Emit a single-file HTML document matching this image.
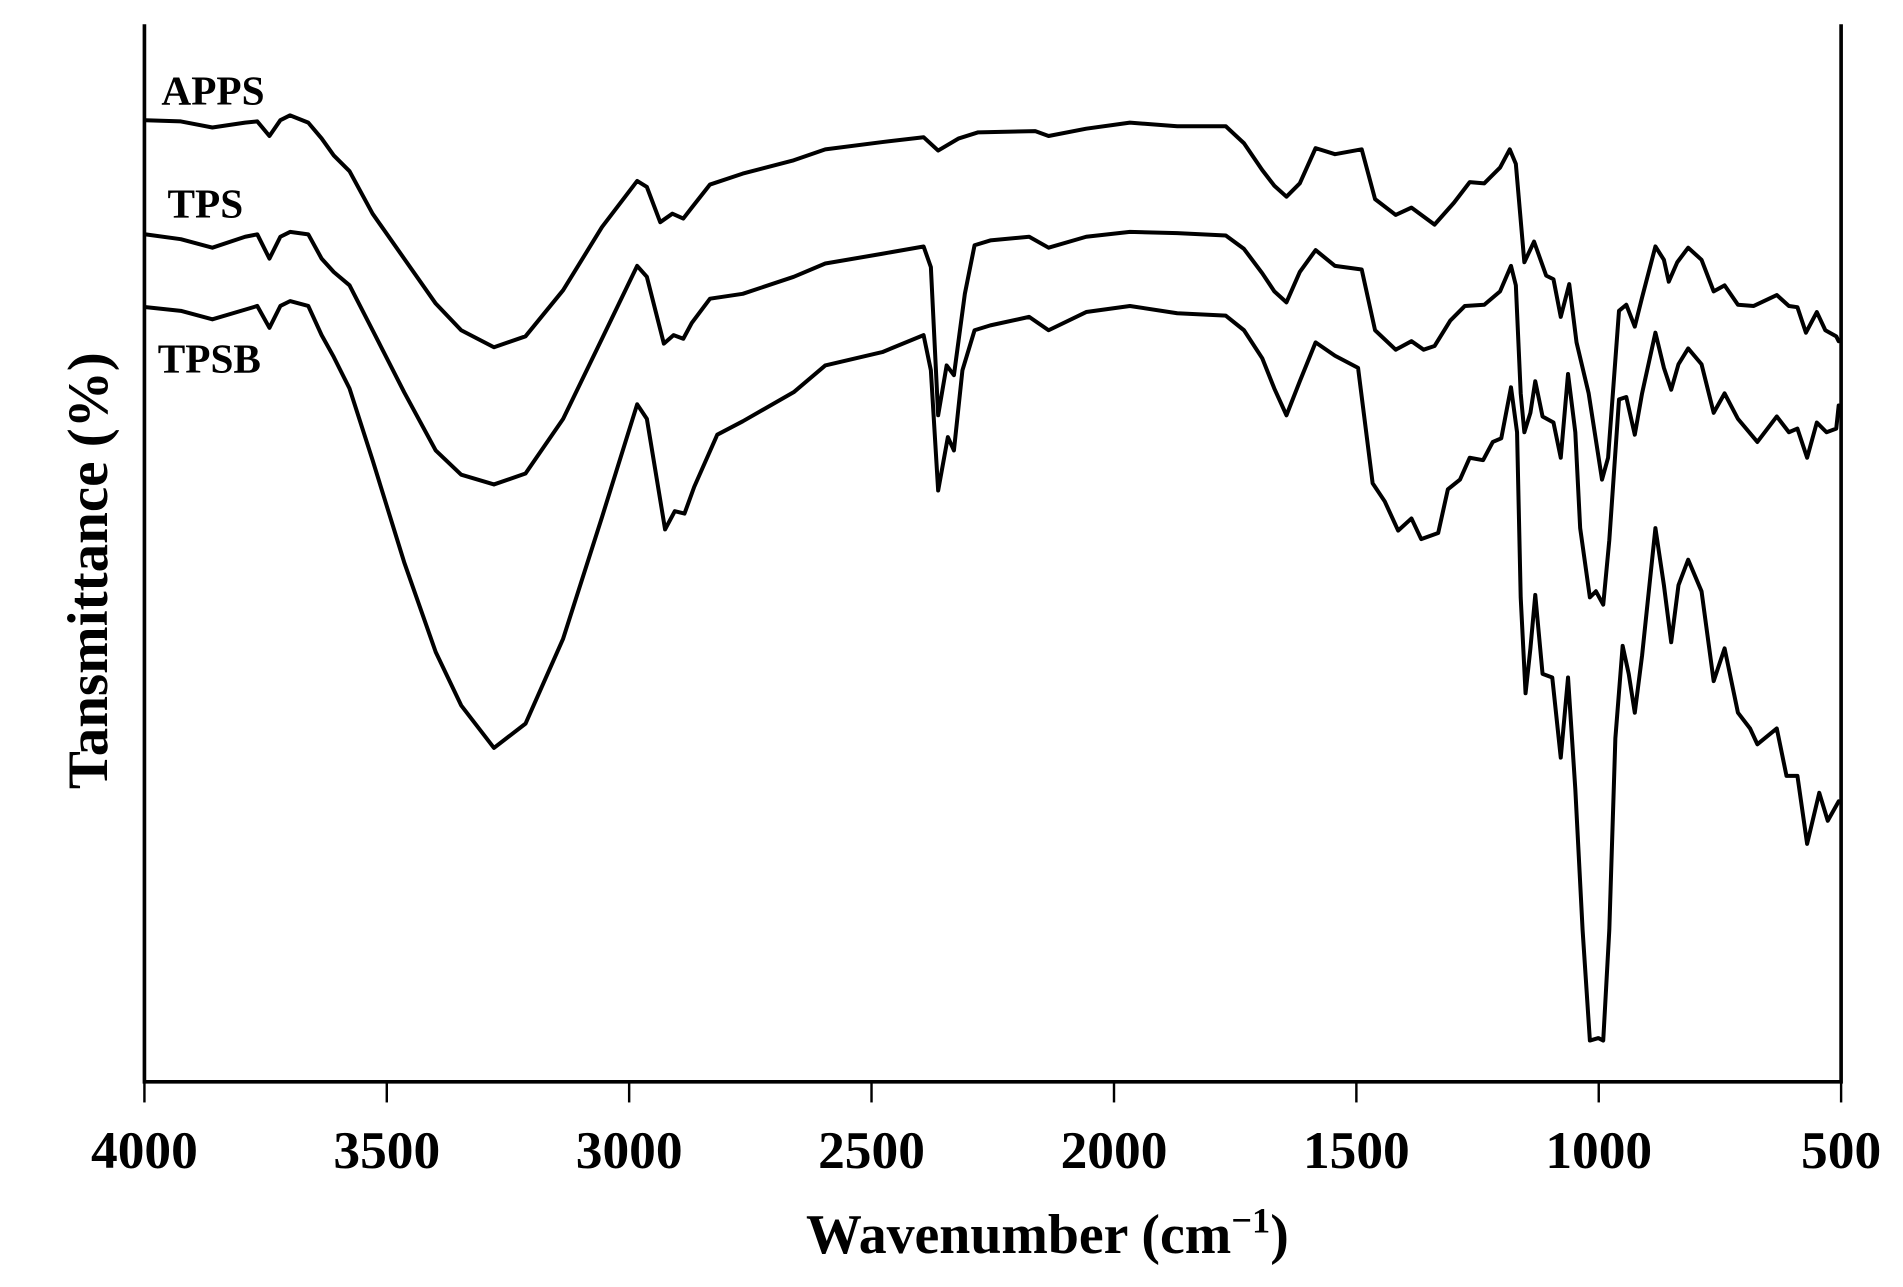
<!DOCTYPE html>
<html><head><meta charset="utf-8"><style>
html,body{margin:0;padding:0;background:#fff;}
svg{display:block;}
text{font-family:"Liberation Serif",serif;font-weight:bold;fill:#000;}
</style></head><body>
<svg width="1903" height="1287" viewBox="0 0 1568 1060" preserveAspectRatio="none" xmlns="http://www.w3.org/2000/svg">
<rect x="0" y="0" width="1568" height="1060" fill="#fff"/>
<g fill="none" stroke="#000" stroke-width="3.3" stroke-linejoin="round" stroke-linecap="round">
<polyline points="120,99 149,100 175,105 202,101 212,100 222,112 231,99 239,95 254,101 265,114 275,128 288,141 307,176 333,213 359,250 380,272 407,286 433,277 464,239 496,187 525,149 533,154 544,183 554,176 563,180 570,171 585,152 612,143 654,132 680,123 727,117 761,113 773,124 790,114 806,109 853,108 864,112 895,106 931,101 970,104 1010,104 1025,118 1040,140 1050,153 1060,162 1071,151 1084,122 1100,127 1122,123 1133,164 1150,177 1163,171 1182,185 1198,167 1211,150 1223,151 1236,138 1244,123 1249,135 1256,216 1264,199 1274,227 1280,230 1286,261 1293,234 1299,282 1309,324 1320,395 1325,377 1334,256 1340,251 1347,269 1353,245 1364,203 1371,214 1375,232 1382,216 1391,204 1402,214 1412,240 1421,235 1432,251 1445,252 1464,243 1474,252 1481,253 1488,274 1497,257 1504,272 1513,277 1515,281"/>
<polyline points="120,193 149,197 175,204 202,195 212,193 222,213 231,195 239,191 254,193 265,213 275,224 288,235 307,272 333,323 359,371 380,391 407,399 433,390 464,345 496,279 525,219 533,228 547,283 555,276 563,279 570,266 585,246 612,242 654,228 680,217 727,209 761,203 767,220 773,342 780,301 786,309 795,242 803,202 816,198 848,195 864,204 895,195 931,191 970,192 1010,194 1025,205 1040,225 1050,240 1060,249 1071,224 1084,206 1100,219 1122,222 1133,272 1150,288 1163,281 1173,288 1182,285 1195,264 1207,252 1223,251 1236,240 1245,219 1249,235 1253,324 1256,356 1261,340 1265,314 1271,343 1280,348 1286,377 1292,308 1298,356 1302,435 1310,492 1315,487 1321,498 1326,445 1334,329 1340,327 1347,358 1353,324 1364,274 1371,303 1377,321 1383,300 1391,287 1402,300 1412,340 1421,324 1432,345 1448,364 1464,343 1474,356 1481,353 1489,377 1497,348 1505,356 1513,353 1515,334"/>
<polyline points="120,253 149,256 175,263 202,255 212,252 222,270 231,252 239,248 254,252 265,276 275,294 288,320 307,379 333,463 359,537 380,581 407,616 433,596 464,526 496,426 525,333 533,345 548,436 556,421 564,423 572,401 591,358 612,347 654,323 680,301 727,290 761,276 767,305 773,404 781,360 786,371 793,305 803,272 816,268 848,261 864,272 895,257 931,252 970,258 1010,260 1025,272 1040,295 1050,320 1060,342 1071,314 1084,282 1100,293 1119,303 1131,398 1141,413 1152,437 1163,427 1171,444 1185,439 1193,403 1203,395 1211,377 1222,379 1230,364 1237,361 1245,319 1250,356 1253,492 1257,571 1261,534 1265,490 1271,555 1279,558 1286,624 1292,558 1298,650 1304,766 1310,857 1317,855 1321,857 1326,766 1331,608 1337,532 1342,555 1347,587 1353,540 1364,435 1371,482 1377,529 1383,482 1391,461 1402,487 1412,561 1421,534 1432,587 1442,600 1448,613 1464,600 1472,639 1481,639 1489,695 1499,653 1506,676 1515,660"/>
</g>
<g stroke="#000" fill="none">
<polyline points="119,20 119,891 1517,891 1517,20" stroke-width="3"/>
<line x1="119" y1="891" x2="119" y2="908" stroke-width="2"/>
<line x1="318.7" y1="891" x2="318.7" y2="908" stroke-width="2"/>
<line x1="518.4" y1="891" x2="518.4" y2="908" stroke-width="2"/>
<line x1="718.1" y1="891" x2="718.1" y2="908" stroke-width="2"/>
<line x1="917.9" y1="891" x2="917.9" y2="908" stroke-width="2"/>
<line x1="1117.6" y1="891" x2="1117.6" y2="908" stroke-width="2"/>
<line x1="1317.3" y1="891" x2="1317.3" y2="908" stroke-width="2"/>
<line x1="1517" y1="891" x2="1517" y2="908" stroke-width="2"/>
</g>
<g font-size="44" text-anchor="middle">
<text x="119" y="962">4000</text>
<text x="318.7" y="962">3500</text>
<text x="518.4" y="962">3000</text>
<text x="718.1" y="962">2500</text>
<text x="917.9" y="962">2000</text>
<text x="1117.6" y="962">1500</text>
<text x="1317.3" y="962">1000</text>
<text x="1517" y="962">500</text>
</g>
<text x="863" y="1032" font-size="46" text-anchor="middle">Wavenumber (cm<tspan font-size="30" dy="-17">−1</tspan><tspan dy="17">)</tspan></text>
<text transform="translate(88,470) rotate(-90)" font-size="47" text-anchor="middle">Tansmittance (%)</text>
<text x="133" y="86" font-size="34">APPS</text>
<text x="138" y="179" font-size="34">TPS</text>
<text x="130" y="307" font-size="34">TPSB</text>
</svg>
</body></html>
